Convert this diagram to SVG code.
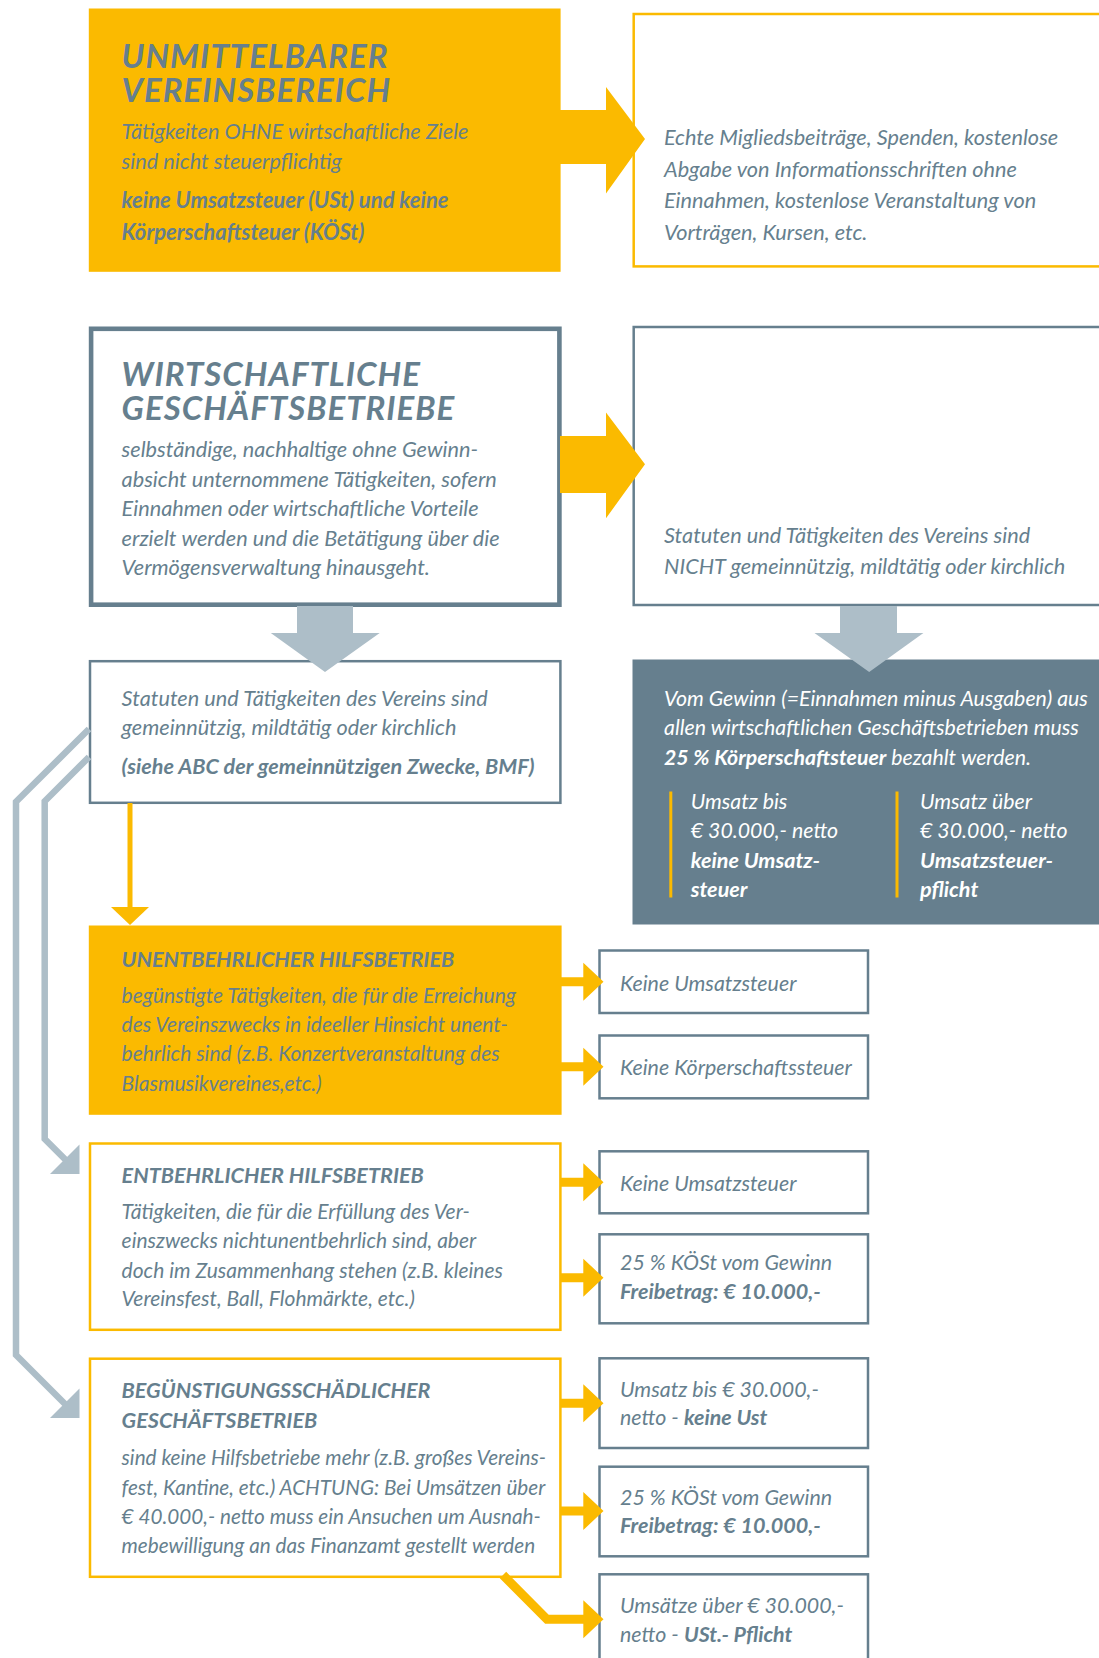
<svg xmlns="http://www.w3.org/2000/svg" width="1099" height="1658" viewBox="0 0 1099 1658">
<style>
text{font-family:Lato,"Noto Sans","DejaVu Sans",sans-serif;font-style:italic;fill:#667f8e}
.t{font-size:33px;font-weight:700;letter-spacing:1px}
.h{font-size:21.6px;font-weight:700}
.hb{font-size:22px;font-weight:700}
.b{font-size:21.7px}
.c{font-size:21px}
.d{font-size:20.7px}
.s{font-size:21.4px}
.v{font-size:21.3px}
.w{fill:#ffffff}
.bold{font-weight:700}
.yf{fill:#fbba00}
.yo{fill:#ffffff;stroke:#fbba00;stroke-width:2.5}
.go{fill:#ffffff;stroke:#667f8e;stroke-width:2.5}
.gf{fill:#667f8e}
.ya{fill:#fbba00}
.la{fill:#adbec8}
.ll{fill:none;stroke:#adbec8;stroke-width:6.5;stroke-linejoin:miter}
</style>
<rect width="1099" height="1658" fill="#ffffff"/>

<g id="n-unmittelbar">
<rect class="yf" x="88.8" y="8.5" width="471.8" height="263.3"/>
<text class="t" x="121.6" y="67.7">UNMITTELBARER<tspan x="121.6" y="101.5">VEREINSBEREICH</tspan></text>
<text class="b" x="121.6" y="138.6">Tätigkeiten OHNE wirtschaftliche Ziele</text>
<text class="b" x="121.6" y="169">sind nicht steuerpflichtig</text>
<text class="hb" x="121.6" y="208">keine Umsatzsteuer (USt) und keine</text>
<text class="hb" x="121.6" y="240">Körperschaftsteuer (KÖSt)</text>
</g>

<g id="n-echte">
<rect class="yo" x="633.7" y="14" width="480" height="252.4"/>
<text class="b" x="664" y="145">Echte Migliedsbeiträge, Spenden, kostenlose</text>
<text class="b" x="664" y="176.5">Abgabe von Informationsschriften ohne</text>
<text class="b" x="664" y="208">Einnahmen, kostenlose Veranstaltung von</text>
<text class="b" x="664" y="240">Vorträgen, Kursen, etc.</text>
</g>

<g id="n-wirtschaftlich">
<rect x="91.1" y="328.8" width="468.3" height="275.9" fill="#ffffff" stroke="#667f8e" stroke-width="4.6"/>
<text class="t" x="121.6" y="386">WIRTSCHAFTLICHE<tspan x="121.6" y="420">GESCHÄFTSBETRIEBE</tspan></text>
<text class="b" x="121.6" y="457">selbständige, nachhaltige ohne Gewinn-</text>
<text class="b" x="121.6" y="486.5">absicht unternommene Tätigkeiten, sofern</text>
<text class="b" x="121.6" y="516">Einnahmen oder wirtschaftliche Vorteile</text>
<text class="b" x="121.6" y="546">erzielt werden und die Betätigung über die</text>
<text class="b" x="121.6" y="575.4">Vermögensverwaltung hinausgeht.</text>
</g>

<g id="n-nicht-gemeinnuetzig">
<rect class="go" x="633.7" y="327" width="480" height="278"/>
<text class="b" x="664" y="542.6">Statuten und Tätigkeiten des Vereins sind</text>
<text class="b" x="664" y="574.3">NICHT gemeinnützig, mildtätig oder kirchlich</text>
</g>

<g id="n-gemeinnuetzig">
<rect class="go" x="90" y="661.2" width="470.4" height="141.6"/>
<text class="b" x="121.6" y="705.5">Statuten und Tätigkeiten des Vereins sind</text>
<text class="b" x="121.6" y="735">gemeinnützig, mildtätig oder kirchlich</text>
<text class="h" x="121.6" y="774">(siehe ABC der gemeinnützigen Zwecke, BMF)</text>
</g>

<g id="n-koerperschaftsteuer">
<rect class="gf" x="632.5" y="659.5" width="480" height="265"/>
<text class="v w" x="664" y="705.5">Vom Gewinn (=Einnahmen minus Ausgaben) aus</text>
<text class="v w" x="664" y="735">allen wirtschaftlichen Geschäftsbetrieben muss</text>
<text class="v w" x="664" y="764.5"><tspan class="bold">25 % Körperschaftsteuer</tspan> bezahlt werden.</text>
<rect class="ya" x="669.3" y="791.5" width="3" height="106"/>
<rect class="ya" x="895.5" y="791.5" width="3" height="106"/>
<text class="v w" x="690.7" y="808.5">Umsatz bis</text>
<text class="v w" x="690.7" y="838.3">€ 30.000,- netto</text>
<text class="h w" x="690.7" y="867.8">keine Umsatz-</text>
<text class="h w" x="690.7" y="897">steuer</text>
<text class="v w" x="920" y="808.5">Umsatz über</text>
<text class="v w" x="920" y="838.3">€ 30.000,- netto</text>
<text class="h w" x="920" y="867.8">Umsatzsteuer-</text>
<text class="h w" x="920" y="897">pflicht</text>
</g>

<g id="n-unentbehrlich">
<rect class="yf" x="88.8" y="925.5" width="472.8" height="189.3"/>
<text class="h" x="121.6" y="966.7">UNENTBEHRLICHER HILFSBETRIEB</text>
<text class="c" x="121.6" y="1002.7">begünstigte Tätigkeiten, die für die Erreichung</text>
<text class="c" x="121.6" y="1032.3">des Vereinszwecks in ideeller Hinsicht unent-</text>
<text class="c" x="121.6" y="1061">behrlich sind (z.B. Konzertveranstaltung des</text>
<text class="c" x="121.6" y="1090.5">Blasmusikvereines,etc.)</text>
</g>

<g id="n-keine-ust-1">
<rect class="go" x="599.5" y="950.5" width="268.5" height="62.5"/>
<text class="s" x="620" y="990.7">Keine Umsatzsteuer</text>
</g>
<g id="n-keine-koest">
<rect class="go" x="599.5" y="1035.5" width="268.5" height="62.8"/>
<text class="s" x="620" y="1075.3">Keine Körperschaftssteuer</text>
</g>

<g id="n-entbehrlich">
<rect class="yo" x="90" y="1143.5" width="470.4" height="186.3"/>
<text class="h" x="121.6" y="1182.5">ENTBEHRLICHER HILFSBETRIEB</text>
<text class="c" x="121.6" y="1218.5">Tätigkeiten, die für die Erfüllung des Ver-</text>
<text class="c" x="121.6" y="1248">einszwecks nichtunentbehrlich sind, aber</text>
<text class="c" x="121.6" y="1277.7">doch im Zusammenhang stehen (z.B. kleines</text>
<text class="c" x="121.6" y="1306.3">Vereinsfest, Ball, Flohmärkte, etc.)</text>
</g>

<g id="n-keine-ust-2">
<rect class="go" x="599.5" y="1151.3" width="268.5" height="62"/>
<text class="s" x="620" y="1190.7">Keine Umsatzsteuer</text>
</g>
<g id="n-koest-1">
<rect class="go" x="599.5" y="1234.3" width="268.5" height="89"/>
<text class="s" x="620" y="1270">25 % KÖSt vom Gewinn</text>
<text class="h" x="620" y="1299.3">Freibetrag: € 10.000,-</text>
</g>

<g id="n-beguenstigungsschaedlich">
<rect class="yo" x="90" y="1358.7" width="470.4" height="218.1"/>
<text class="h" x="121.6" y="1398.3">BEGÜNSTIGUNGSSCHÄDLICHER<tspan x="121.6" y="1428">GESCHÄFTSBETRIEB</tspan></text>
<text class="d" x="121.6" y="1465">sind keine Hilfsbetriebe mehr (z.B. großes Vereins-</text>
<text class="d" x="121.6" y="1494.5">fest, Kantine, etc.) ACHTUNG: Bei Umsätzen über</text>
<text class="d" x="121.6" y="1524">€ 40.000,- netto muss ein Ansuchen um Ausnah-</text>
<text class="d" x="121.6" y="1552.7">mebewilligung an das Finanzamt gestellt werden</text>
</g>

<g id="n-umsatz-bis">
<rect class="go" x="599.5" y="1358.3" width="268.5" height="89.7"/>
<text class="s" x="620" y="1396.7">Umsatz bis € 30.000,-</text>
<text class="s" x="620" y="1425">netto - <tspan class="bold">keine Ust</tspan></text>
</g>
<g id="n-koest-2">
<rect class="go" x="599.5" y="1466.7" width="268.5" height="89.6"/>
<text class="s" x="620" y="1505">25 % KÖSt vom Gewinn</text>
<text class="h" x="620" y="1533.3">Freibetrag: € 10.000,-</text>
</g>
<g id="n-umsatz-ueber">
<rect class="go" x="599.5" y="1574.3" width="268.5" height="100"/>
<text class="s" x="620" y="1613.3">Umsätze über € 30.000,-</text>
<text class="s" x="620" y="1641.7">netto - <tspan class="bold">USt.- Pflicht</tspan></text>
</g>

<g id="connectors">
<polygon class="ya" points="560,110 606,110 606,87 645,139 606,193.6 606,164 560,164"/>
<polygon class="ya" points="560,436 606,436 606,412.5 645,464.3 606,518.3 606,493 560,493"/>
<polygon class="la" points="297,606 353,606 353,633 379.7,633 325,672 270.8,633 297,633"/>
<polygon class="la" points="840,606 897,606 897,633 923.4,633 869.2,672 814.5,633 840,633"/>
<rect class="ya" x="127.5" y="803" width="5" height="106"/>
<polygon class="ya" points="111,907 149,907 130,925"/>
<polyline class="ll" points="89,729 16,801.8 16,1355 66,1405"/>
<polygon class="la" points="50,1418 79.5,1388.5 79.5,1418"/>
<polyline class="ll" points="89,757 44.7,801.3 44.7,1139 66,1160.3"/>
<polygon class="la" points="50,1174 79.5,1144.5 79.5,1174"/>
<polygon class="ya" points="561,977.2 583.3,977.2 583.3,962.7 603.5,981.7 583.3,1000.7 583.3,986.2 561,986.2"/>
<polygon class="ya" points="561,1062.2 583.3,1062.2 583.3,1047.7 603.5,1066.7 583.3,1085.7 583.3,1071.2 561,1071.2"/>
<polygon class="ya" points="561,1177.8 583.3,1177.8 583.3,1163.3 603.5,1182.3 583.3,1201.3 583.3,1186.8 561,1186.8"/>
<polygon class="ya" points="561,1273.2 583.3,1273.2 583.3,1258.7 603.5,1277.7 583.3,1296.7 583.3,1282.2 561,1282.2"/>
<polygon class="ya" points="561,1398.8 583.3,1398.8 583.3,1384.3 603.5,1403.3 583.3,1422.3 583.3,1407.8 561,1407.8"/>
<polygon class="ya" points="561,1506.5 583.3,1506.5 583.3,1492 603.5,1511 583.3,1530 583.3,1515.5 561,1515.5"/>
<polyline points="503,1575 547,1619.3 585,1619.3" fill="none" stroke="#fbba00" stroke-width="9"/>
<polygon class="ya" points="583.3,1600.3 603.5,1619.3 583.3,1638.3"/>
</g>
</svg>
